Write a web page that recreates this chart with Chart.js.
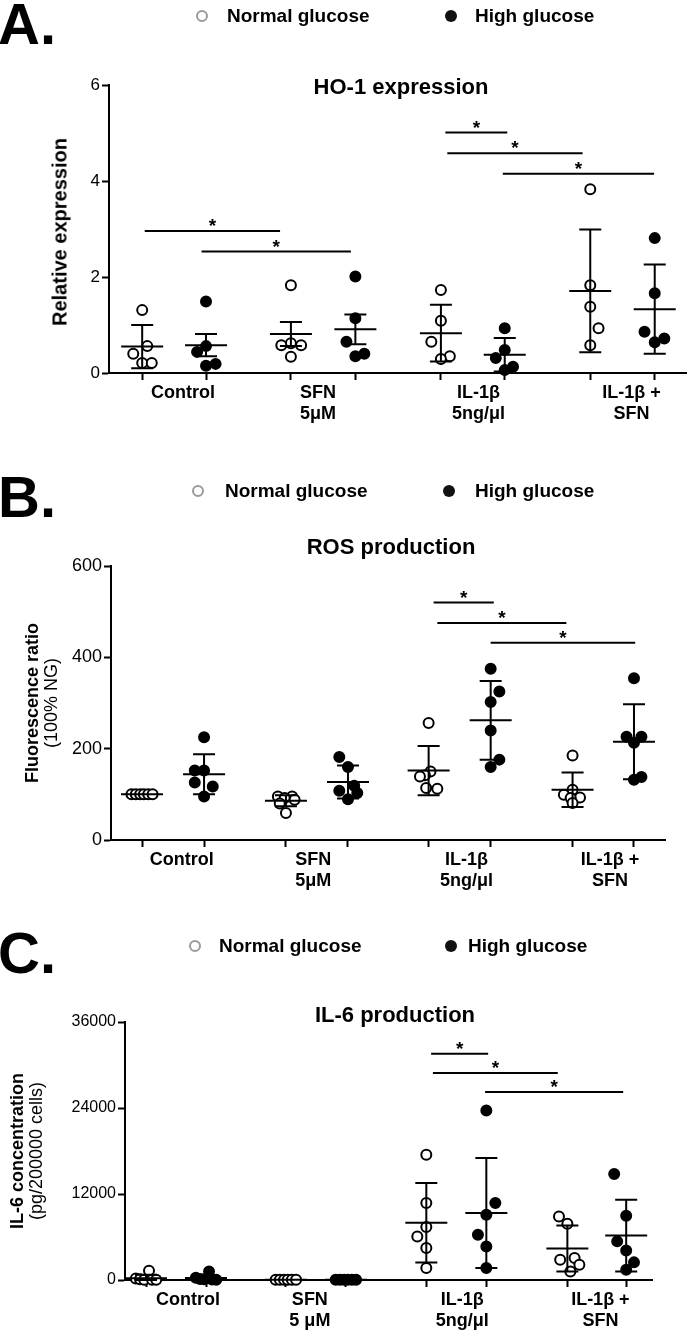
<!DOCTYPE html>
<html>
<head>
<meta charset="utf-8">
<script src="https://cdn.jsdelivr.net/npm/chart.js@4.4.1/dist/chart.umd.min.js"></script>
<style>
  html, body { margin: 0; padding: 0; background: #fff; }
  #page { position: relative; width: 693px; height: 1332px; overflow: hidden; font-family: "Liberation Sans", Arial, sans-serif; color: #000; }
  canvas { position: absolute; left: 0; }
  .letter { position: absolute; left: -2px; font-size: 58px; font-weight: bold; line-height: 58px; }
  .ptitle { position: absolute; font-size: 22px; font-weight: bold; line-height: 22px; transform: translate(-50%, -50%); white-space: nowrap; }
  .ytitle { position: absolute; font-size: 18px; line-height: 19px; transform: translate(-50%, -50%) rotate(-90deg); white-space: nowrap; text-align: center; }
  .lgtext { position: absolute; font-size: 19px; font-weight: bold; line-height: 20px; white-space: nowrap; }
  .lgmark { position: absolute; width: 12px; height: 12px; border-radius: 50%; box-sizing: border-box; }
  .lgmark.ng { border: 2.5px solid #9a9a9a; background: #fff; filter: blur(0.4px); }
  .lgmark.hg { background: #111; filter: blur(0.6px); }
</style>
</head>
<body>
<div id="page">
  <canvas id="chartA" width="693" height="460" style="top:0px"></canvas>
  <canvas id="chartB" width="693" height="430" style="top:460px"></canvas>
  <canvas id="chartC" width="693" height="442" style="top:890px"></canvas>

  <div class="letter" style="top:-5px">A.</div>
  <div class="letter" style="top:468px">B.</div>
  <div class="letter" style="top:924px">C.</div>

  <div class="ptitle" style="left:401px; top:87px">HO-1 expression</div>
  <div class="ptitle" style="left:391px; top:547px">ROS production</div>
  <div class="ptitle" style="left:395px; top:1015px">IL-6 production</div>

  <div class="ytitle" style="left:60px; top:232px; font-size:20px"><b>Relative expression</b></div>
  <div class="ytitle" style="left:42px; top:703px"><b>Fluorescence ratio</b><br>(100% NG)</div>
  <div class="ytitle" style="left:27px; top:1151px"><b>IL-6 concentration</b><br>(pg/200000 cells)</div>
</div>

<script>
// category labels under each pair of columns
const groupLabels = [['Control'], ['SFN', '5μM'], ['IL-1β', '5ng/μl'], ['IL-1β +', 'SFN']];
const groupLabelsC = [['Control'], ['SFN', '5 μM'], ['IL-1β', '5ng/μl'], ['IL-1β +', 'SFN']];
const legendNames = ['Normal glucose', 'High glucose'];

// ---- A. HO-1 expression ----
const hoXNormal = [1, 3.33, 5.68, 8.02];
const hoXHigh = [2, 4.34, 6.68, 9.03];
const hoNormal = [[1.31, 0.56, 0.40, 0.21, 0.21], [1.83, 0.62, 0.58, 0.58, 0.34], [1.73, 1.09, 0.65, 0.35, 0.29], [3.83, 1.83, 1.38, 0.93, 0.58]];
const hoNormalJit = [[0, 0.08, -0.14, 0, 0.15], [0, 0, -0.15, 0.16, 0], [0, 0, -0.15, 0.14, 0], [0, 0, 0, 0.13, 0]];
const hoHigh = [[1.49, 0.56, 0.44, 0.19, 0.15], [2.01, 1.14, 0.65, 0.40, 0.35], [0.93, 0.48, 0.31, 0.13, 0.06], [2.81, 1.66, 0.86, 0.72, 0.64]];
const hoHighJit = [[0, 0, -0.14, 0.15, 0], [0, 0, -0.14, 0.14, 0], [0, 0, -0.14, 0.13, 0], [0, 0, -0.16, 0.15, 0]];
const hoNormalMean = [0.55, 0.81, 0.83, 1.71];
const hoNormalErr = [0.45, 0.25, 0.59, 1.28];
const hoHighMean = [0.58, 0.91, 0.38, 1.33];
const hoHighErr = [0.23, 0.31, 0.35, 0.93];
const hoSig = [[1.04, 3.16, 2.96], [1.93, 4.27, 2.53], [5.75, 6.72, 5.01], [5.78, 7.9, 4.58], [6.65, 9.02, 4.15]];

// ---- B. ROS production ----
const rosXNormal = [1, 3.32, 5.62, 7.94];
const rosXHigh = [2, 4.32, 6.62, 8.93];
const rosNormal = [[100, 100, 100, 100, 100, 100], [95, 95, 92, 88, 80, 59], [256, 150, 142, 139, 114, 112], [185, 110, 99, 93, 92, 81]];
const rosNormalJit = [[-0.17, -0.1, -0.03, 0.03, 0.1, 0.17], [-0.13, 0.1, -0.02, 0.14, -0.1, 0], [0, 0.03, -0.06, -0.14, -0.04, 0.14], [0, 0, -0.14, 0.12, -0.03, 0]];
const rosHigh = [[225, 152, 152, 126, 117, 95], [182, 160, 119, 108, 103, 89], [375, 325, 302, 240, 176, 160], [354, 226, 226, 213, 138, 132]];
const rosHighJit = [[0, -0.15, 0, -0.15, 0.14, 0], [-0.14, 0, 0.1, -0.14, 0.15, 0], [0, 0.14, 0, 0, 0.14, 0], [0, -0.12, 0.12, 0, 0.12, 0]];
const rosNormalMean = [100, 86, 152, 110];
const rosNormalErr = [0, 12, 54, 38];
const rosHighMean = [144, 127, 262, 215];
const rosHighErr = [44, 36, 86, 82];
const rosSig = [[5.70, 6.67, 520], [5.76, 7.84, 475], [6.62, 8.95, 432]];

// ---- C. IL-6 production ----
const il6XNormal = [1, 3.33, 5.67, 8.02];
const il6XHigh = [2, 4.33, 6.67, 9];
const il6Normal = [[1300, 200, 100, 50, 50, 30], [50, 50, 50, 50, 50, 50], [17480, 10740, 7390, 6080, 4460, 1670], [8870, 7850, 3070, 2830, 2130, 1200]];
const il6NormalJit = [[0.05, -0.17, -0.1, -0.03, 0.1, 0.17], [-0.17, -0.1, -0.03, 0.03, 0.1, 0.17], [0, 0, 0, -0.15, 0, 0], [-0.14, 0, 0.12, -0.12, 0.2, 0.05]];
const il6High = [[1200, 300, 150, 100, 80, 50], [20, 20, 20, 20, 20, 20], [23660, 10740, 9110, 6320, 4690, 1670], [14780, 8970, 5390, 4130, 2460, 1440]];
const il6HighJit = [[0.05, -0.17, -0.1, -0.03, 0.1, 0.17], [-0.17, -0.1, -0.03, 0.03, 0.1, 0.17], [0, 0.15, 0, -0.14, 0, 0], [-0.2, 0, -0.15, 0, 0.13, 0]];
const il6NormalMean = [250, 50, 7990, 4410];
const il6NormalErr = [480, 0, 5540, 3210];
const il6HighMean = [280, 20, 9350, 6200];
const il6HighErr = [420, 0, 7680, 5000];
const il6Sig = [[5.75, 6.70, 31570], [5.78, 7.86, 28880], [6.65, 8.95, 26230]];

// legend rows (HTML, one per panel)
function addLegend(cy, ngMarkX, ngTextX, hgMarkX, hgTextX) {
  const page = document.getElementById('page');
  [[ngMarkX, ngTextX, 'ng', legendNames[0]], [hgMarkX, hgTextX, 'hg', legendNames[1]]].forEach(([mx, tx, cls, name]) => {
    const m = document.createElement('div');
    m.className = 'lgmark ' + cls;
    m.style.left = (mx - 6) + 'px';
    m.style.top = (cy - 6) + 'px';
    page.appendChild(m);
    const t = document.createElement('div');
    t.className = 'lgtext';
    t.textContent = name;
    t.style.left = tx + 'px';
    t.style.top = (cy - 10) + 'px';
    page.appendChild(t);
  });
}
addLegend(16, 202, 227, 451, 475);
addLegend(491, 198, 225, 449, 475);
addLegend(946, 195, 219, 451, 468);

function toPoints(xs, vals, jit) {
  const pts = [];
  vals.forEach((g, i) => g.forEach((v, j) => pts.push({ x: xs[i] + jit[i][j], y: v })));
  return pts;
}

// mean line, error whiskers and significance bars, drawn through the scales
function summaryPlugin(xsN, xsH, meanN, errN, meanH, errH, sig) {
  return {
    id: 'summary',
    afterDatasetsDraw(chart) {
      const ctx = chart.ctx;
      const xS = chart.scales.x, yS = chart.scales.y;
      ctx.save();
      ctx.strokeStyle = '#000';
      ctx.fillStyle = '#000';
      ctx.lineWidth = 2;
      const drawGroup = (x, m, e) => {
        const px = xS.getPixelForValue(x);
        const pm = yS.getPixelForValue(m);
        const pt = yS.getPixelForValue(m + e);
        const pb = yS.getPixelForValue(Math.max(m - e, 0));
        ctx.beginPath();
        ctx.moveTo(px - 21, pm); ctx.lineTo(px + 21, pm);
        if (e > 0) {
          ctx.moveTo(px, pt); ctx.lineTo(px, pb);
          ctx.moveTo(px - 11, pt); ctx.lineTo(px + 11, pt);
          ctx.moveTo(px - 11, pb); ctx.lineTo(px + 11, pb);
        }
        ctx.stroke();
      };
      xsN.forEach((x, i) => drawGroup(x, meanN[i], errN[i]));
      xsH.forEach((x, i) => drawGroup(x, meanH[i], errH[i]));

      ctx.font = 'bold 19px "Liberation Sans", Arial, sans-serif';
      ctx.textAlign = 'center';
      ctx.textBaseline = 'alphabetic';
      sig.forEach(([x1, x2, y]) => {
        const a = xS.getPixelForValue(x1), b = xS.getPixelForValue(x2), py = yS.getPixelForValue(y);
        ctx.beginPath();
        ctx.moveTo(a, py); ctx.lineTo(b, py);
        ctx.stroke();
        ctx.fillText('*', (a + b) / 2, py + 1);
      });
      ctx.restore();
    }
  };
}

function buildPanel(id, p) {
  // group label sits near the middle of its pair, nudged like in the figure
  const centers = p.xsN.map((x, i) => (x + p.xsH[i]) / 2 + p.labelShift[i]);
  const allTicks = [...p.xsN, ...p.xsH, ...centers].sort((a, b) => a - b);
  const isCenter = v => centers.some(c => Math.abs(c - v) < 1e-6);
  const pointStyle = { pointRadius: 5, pointHoverRadius: 5, borderWidth: 2, borderColor: '#000', clip: false };

  new Chart(document.getElementById(id), {
    type: 'scatter',
    data: {
      datasets: [
        { label: legendNames[0], data: toPoints(p.xsN, p.valsN, p.jitN), backgroundColor: '#fff', ...pointStyle },
        { label: legendNames[1], data: toPoints(p.xsH, p.valsH, p.jitH), backgroundColor: '#000', ...pointStyle }
      ]
    },
    options: {
      responsive: false,
      animation: false,
      events: [],
      layout: { padding: { top: p.padTop, right: p.padRight, left: 0, bottom: 0 } },
      plugins: { legend: { display: false }, tooltip: { enabled: false }, title: { display: false } },
      scales: {
        x: {
          type: 'linear',
          min: p.xMin,
          max: p.xMax,
          afterBuildTicks: scale => { scale.ticks = allTicks.map(v => ({ value: v })); },
          afterFit: scale => { scale.height = p.xHeight; },
          border: { display: true, color: '#000', width: 2 },
          grid: {
            display: true, drawOnChartArea: false, drawTicks: true, tickLength: 7, tickWidth: 2,
            tickColor: c => (c.tick && isCenter(c.tick.value)) ? 'rgba(0,0,0,0)' : '#000'
          },
          ticks: {
            autoSkip: false, maxRotation: 0, minRotation: 0, padding: 3, color: '#000',
            font: { family: '"Liberation Sans", Arial, sans-serif', size: 18, weight: 'bold', lineHeight: 1.15 },
            callback: v => {
              const i = centers.findIndex(c => Math.abs(c - v) < 1e-6);
              return i >= 0 ? p.labels[i] : '';
            }
          }
        },
        y: {
          min: 0,
          max: p.yMax,
          afterFit: scale => { scale.width = p.yWidth; },
          border: { display: true, color: '#000', width: 2 },
          grid: { display: true, drawOnChartArea: false, drawTicks: true, tickLength: 7, tickWidth: 2, tickColor: '#000' },
          ticks: {
            stepSize: p.yStep, padding: 2, color: '#000',
            font: { family: '"Liberation Sans", Arial, sans-serif', size: p.yFont },
            callback: v => String(v)
          }
        }
      }
    },
    plugins: [summaryPlugin(p.xsN, p.xsH, p.meanN, p.errN, p.meanH, p.errH, p.sig)]
  });
}

buildPanel('chartA', {
  xsN: hoXNormal, xsH: hoXHigh, valsN: hoNormal, jitN: hoNormalJit, valsH: hoHigh, jitH: hoHighJit,
  meanN: hoNormalMean, errN: hoNormalErr, meanH: hoHighMean, errH: hoHighErr, sig: hoSig,
  xMin: 0.48, xMax: 9.52, yMax: 6, yStep: 2, labels: groupLabels, labelShift: [0.14, -0.08, 0.09, 0.14],
  padTop: 85, padRight: 2, yWidth: 109, xHeight: 87, yFont: 17
});
buildPanel('chartB', {
  xsN: rosXNormal, xsH: rosXHigh, valsN: rosNormal, jitN: rosNormalJit, valsH: rosHigh, jitH: rosHighJit,
  meanN: rosNormalMean, errN: rosNormalErr, meanH: rosHighMean, errH: rosHighErr, sig: rosSig,
  xMin: 0.5, xMax: 9.43, yMax: 600, yStep: 200, labels: groupLabels, labelShift: [0.14, -0.06, 0.11, 0.11],
  padTop: 106, padRight: 28, yWidth: 111, xHeight: 50, yFont: 18
});
buildPanel('chartC', {
  xsN: il6XNormal, xsH: il6XHigh, valsN: il6Normal, jitN: il6NormalJit, valsH: il6High, jitH: il6HighJit,
  meanN: il6NormalMean, errN: il6NormalErr, meanH: il6HighMean, errH: il6HighErr, sig: il6Sig,
  xMin: 0.65, xMax: 9.43, yMax: 36000, yStep: 12000, labels: groupLabelsC, labelShift: [0.2, -0.1, 0.1, 0.06],
  padTop: 132, padRight: 41, yWidth: 125, xHeight: 52, yFont: 16
});
</script>
</body>
</html>
